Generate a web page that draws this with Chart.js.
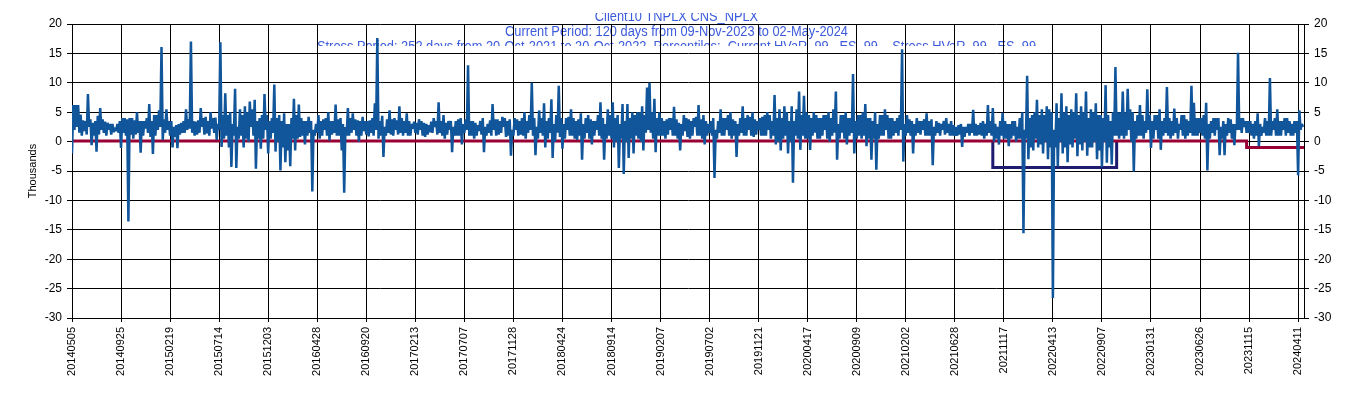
<!DOCTYPE html>
<html>
<head>
<meta charset="utf-8">
<script src="https://cdn.jsdelivr.net/npm/chart.js@4.4.1/dist/chart.umd.min.js"></script>
<style>
  body { margin: 0; background: #fff; }
  #container { width: 1353px; height: 398px; }
</style>
</head>
<body>
<div id="container">
    <canvas id="PnlChart"></canvas>
</div>

<script>
    // tick labels, one every 40 points
    var tickLabels = ['20140505', '20140925', '20150219', '20150714', '20151203', '20160428',
        '20160920', '20170213', '20170707', '20171128', '20180424', '20180914', '20190207',
        '20190702', '20191121', '20200417', '20200909', '20210202', '20210628', '20211117',
        '20220413', '20220907', '20230131', '20230626', '20231115', '20240411'];
    var pointsPerLabel = 40;
    var lastPoint = 1004.8;

    // daily P&L (thousands)
    var pnlValues = [
        -2.0, 6.2, 2.0, 6.2, 2.5, 6.2, 1.5, 4.6, 1.0, 3.6,
        1.8, 3.5, 1.2, 8.1, 2.5, 3.8, -0.6, 3.2, 1.0, 3.5,
        -1.7, 4.4, 1.2, 5.7, 2.0, 3.8, 1.5, 3.4, 1.0, 3.2,
        2.0, 3.0, 1.2, 3.0, 1.6, 2.4, 1.8, 3.0, 1.5, 3.5,
        // 20140925
        -1.1, 4.0, 1.5, 4.0, 1.0, 3.8, -13.6, 4.0, 1.2, 4.0,
        0.5, 3.6, 1.2, 5.0, 1.5, 3.5, -1.9, 3.5, 1.0, 3.5,
        2.2, 4.0, 1.5, 6.4, 0.8, 3.5, -2.1, 4.5, 1.0, 4.5,
        2.0, 5.3, 2.5, 16.1, 0.3, 3.8, 1.5, 5.5, 2.0, 3.5,
        // 20150219
        1.0, 3.5, -1.0, 2.5, 0.8, 2.8, -1.1, 3.0, 1.2, 3.2,
        1.5, 3.5, 1.5, 5.5, 2.0, 3.8, 2.2, 17.0, 1.5, 3.5,
        1.0, 3.4, 1.2, 3.6, 1.5, 5.7, 2.5, 4.0, 1.2, 4.2,
        1.4, 3.5, 1.0, 5.0, 2.2, 4.0, 1.5, 4.1, 0.3, 3.0,
        // 20150714
        2.0, 16.9, -0.9, 4.5, 0.5, 8.2, 1.0, 4.5, -1.0, 5.0,
        -4.3, 3.0, 1.0, 9.0, -4.5, 2.5, 0.5, 5.5, 1.0, 4.5,
        -1.0, 6.0, 0.5, 5.0, 0.0, 6.8, 2.5, 5.5, 1.0, 7.1,
        -4.6, 3.5, 0.5, 4.0, -1.2, 4.5, 0.5, 8.1, 2.0, 4.5,
        // 20151203
        -2.0, 3.5, 0.5, 4.0, 1.5, 9.7, -1.7, 4.0, 0.0, 4.5,
        -4.9, 3.5, -1.0, 4.8, -3.5, 3.0, -1.5, 3.0, -4.2, 4.0,
        0.5, 7.3, -1.5, 4.5, 0.5, 6.3, 0.8, 4.0, 1.0, 3.5,
        -0.5, 3.5, 1.0, 4.2, 1.5, 3.5, -8.5, 2.0, 1.0, 3.0,
        // 20160428
        1.5, 4.5, 0.5, 3.5, 1.0, 3.8, 2.0, 4.0, 1.0, 5.0,
        0.2, 3.5, 1.2, 3.5, 1.5, 6.3, 1.0, 3.8, 1.0, 4.0,
        -1.5, 3.0, -8.7, 2.5, 1.0, 5.7, 1.0, 4.0, 1.5, 4.8,
        2.0, 3.8, 1.0, 3.6, 0.0, 3.5, 1.0, 4.2, 1.8, 3.5,
        // 20160920
        1.2, 3.5, 0.9, 3.6, 1.5, 4.0, 1.0, 6.5, 2.0, 17.6,
        0.5, 3.5, 1.0, 4.4, -2.6, 2.5, 1.0, 3.8, 1.5, 5.3,
        1.2, 3.8, 1.0, 4.0, 2.0, 3.6, 1.2, 6.0, 1.5, 4.0,
        1.0, 3.5, 1.5, 4.8, 1.0, 3.5, 1.0, 3.0, 2.2, 3.4,
        // 20170213
        1.5, 3.2, 1.2, 3.8, 2.0, 3.5, 1.0, 3.2, 0.8, 3.0,
        1.2, 2.8, 1.6, 3.4, 1.5, 4.0, 2.5, 3.5, 1.2, 6.7,
        1.5, 3.5, 1.0, 4.5, 0.5, 3.2, 1.2, 3.5, 2.0, 3.5,
        -1.8, 2.5, 1.0, 3.5, 1.0, 3.8, 1.0, 4.0, -0.5, 3.0,
        // 20170707
        1.5, 3.8, 2.0, 13.0, 1.0, 3.5, 1.0, 3.5, 0.5, 3.2,
        1.0, 2.8, 1.8, 3.5, 1.2, 4.0, -1.8, 2.5, 1.0, 3.0,
        1.5, 3.6, 1.0, 6.4, 2.0, 3.8, 1.0, 3.8, 1.2, 3.5,
        1.5, 4.2, 2.5, 4.0, 0.8, 3.5, 1.0, 3.8, -2.4, 2.0,
        // 20171128
        1.0, 4.0, 2.0, 3.8, 1.0, 3.5, 1.2, 4.0, 1.0, 5.0,
        0.5, 3.5, 1.5, 4.5, 2.0, 10.0, 1.0, 4.0, -2.3, 2.5,
        0.5, 5.3, 1.5, 4.0, 1.0, 6.5, -1.0, 3.5, 0.5, 4.0,
        1.5, 7.2, -2.8, 3.0, 0.0, 4.5, 1.5, 9.5, 0.8, 4.0,
        // 20180424
        -1.2, 3.0, 0.5, 4.0, 2.0, 4.2, 1.0, 5.5, 1.0, 4.0,
        0.5, 3.5, 0.3, 3.8, 1.0, 4.8, -3.1, 3.0, 0.5, 4.0,
        1.5, 4.5, 0.5, 3.8, -0.5, 3.5, 1.0, 3.5, 2.0, 4.5,
        1.0, 6.7, 0.5, 4.0, -3.1, 3.0, 0.5, 5.5, 1.0, 4.5,
        // 20180914
        0.5, 6.7, -1.0, 4.0, 0.0, 4.5, -4.5, 3.0, 0.5, 6.4,
        -5.5, 3.5, 0.0, 6.4, -2.8, 4.0, 0.5, 5.0, -2.0, 4.5,
        1.0, 5.0, 0.5, 5.0, 0.0, 6.0, -1.5, 4.5, 1.5, 9.2,
        2.0, 10.0, 1.5, 5.0, 0.5, 7.3, -1.8, 4.0, 1.0, 5.0,
        // 20190207
        1.0, 4.0, 1.0, 3.5, 0.5, 3.8, 1.2, 4.0, 2.0, 4.0,
        1.0, 5.9, 1.0, 3.8, 0.5, 3.2, -1.5, 3.0, 1.0, 4.5,
        1.8, 4.0, 0.8, 3.8, 0.5, 3.5, 1.0, 4.0, 2.5, 4.2,
        1.0, 6.2, 1.0, 3.8, 0.5, 4.5, -0.5, 3.5, 1.0, 3.0,
        // 20190702
        1.5, 3.5, 1.0, 4.0, -6.2, 2.0, 0.5, 3.5, 1.5, 5.5,
        1.0, 4.0, 1.0, 4.0, 2.0, 4.5, 1.0, 5.0, 0.5, 3.8,
        1.0, 3.5, -2.6, 3.0, 1.0, 4.0, 1.5, 6.0, 1.0, 4.0,
        1.0, 4.5, 2.0, 4.2, 1.0, 5.0, 0.8, 3.8, 1.2, 3.5,
        // 20191121
        2.0, 4.0, 1.0, 4.2, 1.0, 4.5, 1.0, 5.0, 2.0, 4.5,
        0.5, 3.5, 1.0, 7.9, -0.5, 4.0, 0.0, 5.5, -1.5, 4.0,
        0.5, 6.0, 1.0, 5.0, -2.0, 3.5, 0.0, 6.0, -7.0, 3.5,
        1.0, 5.5, 0.5, 8.5, -1.4, 4.5, 1.0, 7.8, 0.5, 5.0,
        // 20200417
        0.5, 4.5, -1.4, 4.0, 1.0, 5.0, 1.5, 4.5, 0.5, 4.0,
        0.5, 4.0, 1.0, 4.5, 2.0, 4.5, 0.5, 5.0, 0.0, 4.0,
        1.0, 5.5, 1.5, 8.5, -3.1, 3.0, 0.5, 4.5, 1.5, 4.5,
        0.5, 5.0, -0.5, 4.0, 1.0, 4.0, 1.5, 11.5, -2.0, 3.5,
        // 20200909
        0.5, 4.5, 1.0, 4.5, 0.5, 5.0, 1.0, 6.4, -0.8, 4.0,
        0.5, 4.0, -3.1, 3.5, 0.5, 5.0, -4.8, 3.0, 0.5, 4.5,
        1.0, 4.5, 1.0, 5.5, 2.0, 4.5, 0.5, 4.0, 0.5, 4.0,
        1.0, 3.5, 1.5, 4.0, 1.0, 4.5, 2.0, 15.7, -3.4, 3.0,
        // 20210202
        1.0, 4.5, 1.5, 3.8, 1.0, 3.5, -2.0, 3.0, 1.0, 4.0,
        1.5, 3.5, 1.2, 3.5, 2.0, 3.8, 1.0, 4.8, 1.0, 3.5,
        1.0, 3.8, -4.0, 2.5, 1.0, 3.5, 1.5, 3.2, 1.0, 3.0,
        2.0, 3.5, 1.2, 4.0, 1.5, 3.0, 1.0, 3.5, 1.0, 2.8,
        // 20210628
        1.0, 2.5, 1.0, 2.8, 1.2, 3.0, -0.9, 2.5, 0.8, 2.5,
        1.5, 3.0, 1.0, 3.0, 1.5, 5.4, 1.0, 3.0, 1.0, 2.8,
        1.2, 3.2, 1.0, 3.5, 0.5, 3.0, 1.0, 6.2, 1.5, 3.5,
        1.0, 5.7, 0.0, 3.0, 0.5, 2.5, -0.5, 3.5, 1.0, 4.9,
        // 20211117
        0.5, 3.5, 0.5, 3.0, -0.8, 3.0, 0.5, 3.5, 1.0, 3.5,
        0.0, 2.5, 0.5, 4.0, 0.5, 5.0, -15.6, 2.0, 0.5, 11.2,
        -3.0, 4.0, -1.0, 4.5, -1.5, 5.0, 0.5, 7.1, -1.0, 4.5,
        -0.5, 5.5, -2.0, 4.5, 0.0, 6.0, -3.0, 5.5, -1.0, 5.0,
        // 20220413
        -26.6, 2.0, -1.0, 6.5, -4.2, 4.0, 0.0, 8.2, -2.0, 5.0,
        -1.0, 6.0, -3.5, 4.5, -0.5, 5.5, -1.0, 5.0, 0.5, 8.2,
        -2.5, 4.5, -0.5, 6.0, -1.5, 5.0, 0.0, 8.5, -2.4, 4.0,
        -1.0, 5.5, -1.0, 5.0, 0.0, 6.5, -3.0, 4.5, -1.5, 4.5,
        // 20220907
        -4.3, 4.0, 0.0, 9.6, -3.6, 4.5, -1.0, 3.5, -3.9, 5.0,
        1.0, 12.7, 1.0, 5.0, 0.5, 5.0, 1.0, 8.5, 0.5, 5.0,
        1.0, 9.0, 2.0, 5.5, 0.0, 5.0, -5.1, 3.5, 0.5, 4.5,
        1.0, 6.2, 1.0, 4.5, 0.5, 3.5, 1.5, 8.9, 2.0, 4.5,
        // 20230131
        -1.1, 3.5, 0.5, 4.5, 2.0, 4.5, 0.5, 5.5, -1.4, 3.5,
        1.0, 4.0, 1.5, 9.3, 1.0, 4.0, 0.5, 3.5, 1.0, 5.6,
        1.5, 4.0, 0.5, 3.0, 2.0, 4.5, 1.0, 4.5, 0.5, 3.8,
        1.0, 3.5, 1.5, 9.5, 1.0, 6.6, 1.0, 4.0, 1.0, 4.0,
        // 20230626
        1.5, 4.0, 1.0, 4.5, 0.5, 6.6, -4.9, 3.0, 0.5, 3.5,
        1.5, 4.0, 1.0, 4.0, 2.0, 4.0, -2.3, 2.5, 0.5, 3.5,
        -2.3, 3.0, 1.0, 4.0, 1.5, 3.8, 0.5, 3.0, -0.6, 3.0,
        2.0, 15.1, 2.0, 4.0, 1.5, 4.0, 2.5, 3.5, 1.5, 3.5,
        // 20231115
        1.5, 3.5, 1.0, 3.0, 0.5, 3.5, 1.0, 4.8, -0.8, 3.0,
        1.0, 2.5, 1.5, 4.0, 1.0, 3.5, 1.0, 10.8, 1.0, 3.5,
        2.0, 4.0, 1.0, 5.5, 1.0, 3.5, 1.0, 3.5, 2.0, 4.0,
        1.0, 4.0, 1.5, 3.5, 1.0, 3.0, 1.0, 3.5, 1.5, 3.5,
        // 20240411
        -5.7, 5.3, 2.0, 3.0, 2.5
    ];

    // current HVaR, as steps (start index, level)
    var hvarStepIdx = [0, 958];
    var hvarLevels = [0.1, -1.0];

    // stress HVaR over the stress period
    var stressStartIdx = 751;
    var stressEndIdx = 852;
    var stressLevel = -4.4;

    var titleLines = [
        'Client10 TNPLX CNS_NPLX',
        'Current Period: 120 days from 09-Nov-2023 to 02-May-2024',
        'Stress Period: 252 days from 20-Oct-2021 to 20-Oct-2022, Percentiles:  Current HVaR_99 , ES_99 ,  Stress HVaR_99 , ES_99'
    ];

    var pnlData = pnlValues.map(function (v, i) { return {x: i, y: v}; });
    var hvarData = hvarStepIdx.map(function (s, k) { return {x: s, y: hvarLevels[k]}; });
    hvarData.push({x: lastPoint, y: hvarLevels[hvarLevels.length - 1]});
    var stressData = [
        {x: stressStartIdx, y: 0}, {x: stressStartIdx, y: stressLevel},
        {x: stressEndIdx, y: stressLevel}, {x: stressEndIdx, y: 0}
    ];

    // title sits behind the grid and is cut top and bottom, as in the source
    var clippedTitle = {
        id: 'clippedTitle',
        beforeDraw: function (chart) {
            var ctx = chart.ctx;
            ctx.save();
            ctx.beginPath();
            ctx.rect(0, 13, chart.width, 33);
            ctx.clip();
            ctx.fillStyle = '#3b5bdb';
            ctx.font = '14px "Liberation Sans", Arial, sans-serif';
            ctx.textAlign = 'center';
            ctx.textBaseline = 'alphabetic';
            var sx = 343 / ctx.measureText(titleLines[1]).width;
            titleLines.forEach(function (t, k) {
                ctx.save();
                ctx.translate(chart.width / 2, 20.5 + k * 15);
                ctx.scale(sx, 1);
                ctx.fillText(t, 0, 0);
                ctx.restore();
            });
            ctx.restore();
        }
    };

    var axisFont = {family: '"Liberation Sans", Arial, sans-serif', size: 12};

    var ctxL = document.getElementById('PnlChart').getContext('2d');
    var pnlChart = new Chart(ctxL, {
        type: 'line',
        data: {
            datasets: [
                {
                    label: 'P&L',
                    data: pnlData,
                    borderColor: '#11559b',
                    borderWidth: 2.5,
                    borderJoinStyle: 'bevel',
                    pointRadius: 0,
                    tension: 0,
                    order: 0
                },
                {
                    label: 'Current HVaR_99',
                    data: hvarData,
                    borderColor: '#990033',
                    borderWidth: 3,
                    pointRadius: 0,
                    stepped: true,
                    order: 1
                },
                {
                    label: 'Stress HVaR_99',
                    data: stressData,
                    borderColor: '#1f1b6e',
                    borderWidth: 3,
                    pointRadius: 0,
                    order: 2
                }
            ]
        },
        options: {
            responsive: true,
            maintainAspectRatio: false,
            animation: false,
            layout: {padding: {top: 24, left: 0, right: 0, bottom: 0}},
            plugins: {legend: {display: false}, tooltip: {enabled: false}},
            scales: {
                x: {
                    type: 'linear',
                    min: 0,
                    max: lastPoint,
                    afterBuildTicks: function (s) {
                        s.ticks = tickLabels.map(function (_, k) { return {value: k * pointsPerLabel}; });
                    },
                    afterFit: function (s) { s.height = 80; },
                    ticks: {
                        autoSkip: false,
                        maxRotation: 90,
                        minRotation: 90,
                        padding: 5,
                        color: '#000',
                        font: {family: axisFont.family, size: 11},
                        callback: function (v) { return tickLabels[Math.round(v / pointsPerLabel)]; }
                    },
                    grid: {color: '#000', lineWidth: 1, tickLength: 4},
                    border: {color: '#000'}
                },
                y: {
                    position: 'left',
                    min: -30,
                    max: 20,
                    afterFit: function (s) { s.width = 72; },
                    ticks: {stepSize: 5, padding: 5, color: '#000', font: axisFont},
                    grid: {color: '#000', lineWidth: 1, tickLength: 5},
                    border: {color: '#000'},
                    title: {
                        display: true,
                        text: 'Thousands',
                        color: '#000',
                        font: {family: axisFont.family, size: 11},
                        padding: {top: 26, bottom: 0}
                    }
                },
                y2: {
                    position: 'right',
                    min: -30,
                    max: 20,
                    afterFit: function (s) { s.width = 49; },
                    ticks: {stepSize: 5, padding: 5, color: '#000', font: axisFont},
                    grid: {drawOnChartArea: false, color: '#000', tickLength: 5},
                    border: {color: '#000'}
                }
            }
        },
        plugins: [clippedTitle]
    });
</script>
</body>
</html>
